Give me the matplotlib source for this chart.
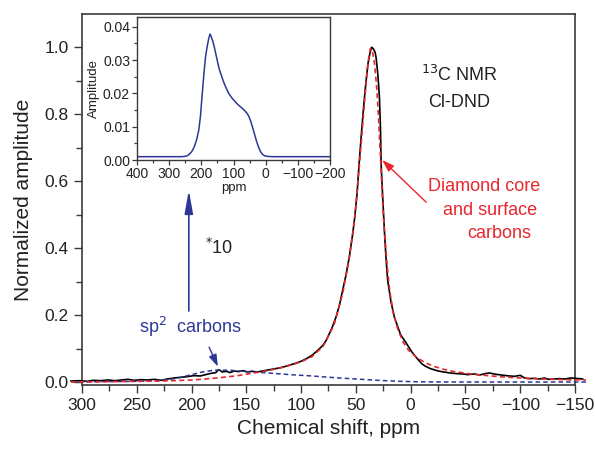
import matplotlib
matplotlib.use("Agg")
import matplotlib.pyplot as plt
from matplotlib.ticker import MultipleLocator

plt.rcParams['font.family'] = ['Liberation Sans', 'DejaVu Sans']

# ---------------- data ----------------
exp_ppm = [310, 302, 295, 290, 283, 276, 270, 264, 258, 252, 246, 240, 234, 228, 222, 216,
           210, 204, 198, 192, 186, 182, 178, 175, 172, 168, 165, 161, 157, 153, 149, 145,
           140, 135, 130, 125, 120, 115, 110, 105, 100, 95, 90, 85, 80, 77, 72, 68, 65, 62,
           59, 56, 53, 51, 49, 47, 45, 43, 41, 39, 37, 35.6, 34, 32.5, 31.6, 30, 28.5, 27.5,
           27, 25.5, 24, 22.5, 21, 18, 15, 13, 9, 4, -1, -6, -10, -13, -18, -25, -30, -36,
           -42, -48, -52, -58, -63, -68, -72, -76, -80, -85, -90, -95, -100, -104, -108,
           -113, -118, -122, -126, -131, -136, -141, -146, -150, -154, -157]
exp_amp = [0.003, 0.004, 0.002, 0.005, 0.004, 0.006, 0.004, 0.006, 0.008, 0.005, 0.007, 0.006,
           0.008, 0.005, 0.009, 0.012, 0.014, 0.016, 0.019, 0.018, 0.023, 0.026, 0.028, 0.037,
           0.030, 0.032, 0.028, 0.033, 0.031, 0.034, 0.030, 0.032, 0.030, 0.033, 0.036, 0.039,
           0.042, 0.046, 0.051, 0.056, 0.062, 0.070, 0.080, 0.094, 0.110, 0.125, 0.160, 0.195,
           0.230, 0.275, 0.320, 0.374, 0.440, 0.494, 0.560, 0.654, 0.740, 0.820, 0.890, 0.950,
           0.985, 1.000, 0.995, 0.985, 0.970, 0.920, 0.850, 0.750, 0.654, 0.550, 0.454, 0.370,
           0.304, 0.240, 0.195, 0.176, 0.140, 0.116, 0.090, 0.070, 0.055, 0.048, 0.040, 0.033,
           0.030, 0.027, 0.025, 0.024, 0.022, 0.024, 0.021, 0.025, 0.027, 0.024, 0.022, 0.020,
           0.018, 0.017, 0.020, 0.012, 0.010, 0.011, 0.009, 0.012, 0.008, 0.009, 0.010, 0.009,
           0.012, 0.011, 0.010, 0.009]

core_ppm = [310, 250, 225, 200, 180, 160, 145, 130, 115, 100, 90, 80, 70, 62, 56, 51, 47, 43,
            40, 38, 36.8, 35, 33, 31, 29.5, 28, 26.5, 25, 23, 21, 19, 16, 12, 7, 2, -5, -12,
            -20, -30, -40, -55, -70, -85, -100, -120, -140, -160]
core_amp = [0.0, 0.002, 0.003, 0.006, 0.011, 0.018, 0.026, 0.034, 0.045, 0.060, 0.076, 0.106,
            0.170, 0.265, 0.370, 0.490, 0.640, 0.800, 0.920, 0.975, 0.996, 0.990, 0.950, 0.880,
            0.800, 0.700, 0.600, 0.500, 0.410, 0.330, 0.270, 0.210, 0.160, 0.120, 0.095, 0.075,
            0.060, 0.048, 0.038, 0.031, 0.024, 0.019, 0.015, 0.012, 0.009, 0.007, 0.006]

sp2_ppm = [310, 280, 250, 230, 215, 200, 190, 180, 175, 165, 150, 130, 110, 90, 70, 50, 30,
           10, -10, -40, -160]
sp2_amp = [0.0, 0.001, 0.002, 0.004, 0.010, 0.022, 0.030, 0.035, 0.036, 0.035, 0.031, 0.027,
           0.022, 0.018, 0.013, 0.009, 0.005, 0.002, 0.0005, 0.0, 0.0]

inset_ppm = [400, 300, 260, 245, 238, 230, 222, 215, 208, 203, 198, 192, 187, 182, 177, 173,
             170, 165, 160, 155, 150, 145, 140, 132, 124, 115, 105, 95, 85, 75, 65, 58, 52,
             46, 40, 34, 28, 22, 16, 10, 4, -5, -20, -100, -200]
inset_amp = [0.001, 0.001, 0.001, 0.0012, 0.0017, 0.0025, 0.004, 0.006, 0.009, 0.013, 0.019,
             0.026, 0.031, 0.034, 0.0365, 0.0378, 0.0372, 0.0358, 0.034, 0.0318, 0.0296,
             0.0275, 0.026, 0.0237, 0.0218, 0.0200, 0.0186, 0.0175, 0.0165, 0.0157, 0.0148,
             0.0140, 0.0130, 0.0115, 0.0095, 0.0075, 0.0055, 0.0038, 0.0025, 0.0017, 0.0013,
             0.0011, 0.001, 0.001, 0.001]

RED = '#e8262d'
BLUE = '#2d3896'
SPINE = '#3a3a3a'

fig = plt.figure(figsize=(5.95, 4.5), dpi=100)
ax = fig.add_axes([0.1378, 0.1444, 0.8286, 0.8244])

ax.plot(exp_ppm, exp_amp, color='black', lw=1.2, clip_on=False, zorder=3)
ax.plot(sp2_ppm, sp2_amp, color=BLUE, lw=1.1, ls=(0, (3, 2)), clip_on=False, zorder=4)
ax.plot(core_ppm, core_amp, color=RED, lw=1.2, ls=(0, (3, 2)), clip_on=False, zorder=5)

ax.set_xlim(300, -150)
ax.set_ylim(-0.009, 1.099)
ax.xaxis.set_major_locator(MultipleLocator(50))
ax.xaxis.set_minor_locator(MultipleLocator(25))
ax.yaxis.set_major_locator(MultipleLocator(0.2))
ax.yaxis.set_minor_locator(MultipleLocator(0.1))
ax.yaxis.set_major_formatter(matplotlib.ticker.FormatStrFormatter('%.1f'))
ax.tick_params(which='both', direction='out', colors=SPINE, labelcolor='#222222',
               labelsize=12.5, width=1.0)
ax.tick_params(which='major', length=6)
ax.tick_params(which='minor', length=4)
for s in ax.spines.values():
    s.set_color(SPINE)
    s.set_linewidth(1.2)
ax.set_xlabel('Chemical shift, ppm', fontsize=15, color='#222222', labelpad=4)
ax.set_ylabel('Normalized amplitude', fontsize=15, color='#222222', labelpad=8)

# annotations
ax.text(-44.7, 0.916, r'$^{13}$C NMR', fontsize=13, ha='center', va='center', color='#222222')
ax.text(-44.5, 0.834, 'Cl-DND', fontsize=13, ha='center', va='center', color='#222222')
ax.text(-67.5, 0.583, 'Diamond core', fontsize=13, ha='center', va='center', color=RED)
ax.text(-72.5, 0.513, 'and surface', fontsize=13, ha='center', va='center', color=RED)
ax.text(-81, 0.445, 'carbons', fontsize=13, ha='center', va='center', color=RED)
ax.annotate('', xy=(26, 0.663), xytext=(-14.2, 0.537),
            arrowprops=dict(arrowstyle='-|>,head_length=0.6,head_width=0.2', color=RED,
                            lw=1.0, shrinkA=0, shrinkB=0, mutation_scale=12))
ax.text(188, 0.40, r'$^{*}$10', fontsize=13, ha='left', va='center', color='#222222')
ax.text(200.7, 0.165, r'sp$^2$  carbons', fontsize=13, ha='center', va='center', color=BLUE)
ax.annotate('', xy=(202.5, 0.573), xytext=(202.5, 0.212),
            arrowprops=dict(arrowstyle='-|>,head_length=1.0,head_width=0.18', color=BLUE,
                            lw=1.2, shrinkA=0, shrinkB=0, mutation_scale=14))
ax.annotate('', xy=(176, 0.046), xytext=(184, 0.104),
            arrowprops=dict(arrowstyle='-|>,head_length=0.6,head_width=0.2', color=BLUE,
                            lw=1.0, shrinkA=0, shrinkB=0, mutation_scale=12))

# inset
ins = fig.add_axes([0.2303, 0.6444, 0.3244, 0.3178])
ins.plot(inset_ppm, inset_amp, color=BLUE, lw=1.1)
ins.set_xlim(400, -200)
ins.set_ylim(0, 0.0429)
ins.xaxis.set_major_locator(MultipleLocator(100))
ins.xaxis.set_minor_locator(MultipleLocator(50))
ins.yaxis.set_major_locator(MultipleLocator(0.01))
ins.yaxis.set_minor_locator(MultipleLocator(0.005))
ins.yaxis.set_major_formatter(matplotlib.ticker.FormatStrFormatter('%.2f'))
ins.tick_params(which='both', direction='out', colors=SPINE, labelcolor='#222222',
                labelsize=10, width=0.9, pad=1.5)
ins.tick_params(which='major', length=3.5)
ins.tick_params(which='minor', length=2)
for s in ins.spines.values():
    s.set_color(SPINE)
    s.set_linewidth(1.0)
ins.set_xlabel('ppm', fontsize=9.5, color='#222222', labelpad=1)
ins.set_ylabel('Amplitude', fontsize=9.5, color='#222222', labelpad=2)

fig.savefig('out.png', dpi=100)
